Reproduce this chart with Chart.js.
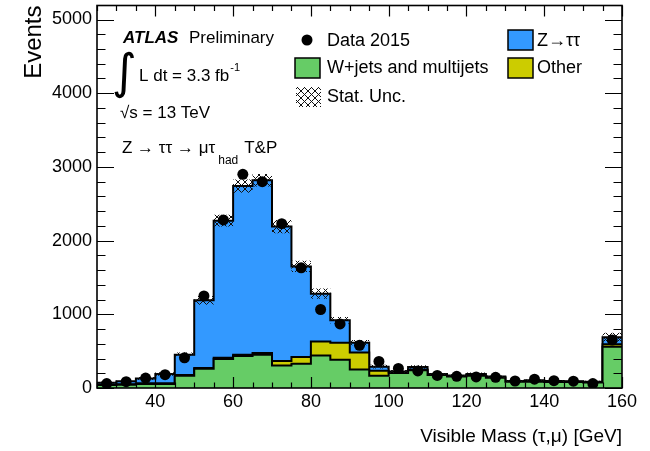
<!DOCTYPE html>
<html>
<head>
<meta charset="utf-8">
<script src="https://cdn.jsdelivr.net/npm/chart.js@4.4.1/dist/chart.umd.min.js"></script>
<style>
  html, body { margin: 0; padding: 0; background: #fff; }
</style>
</head>
<body>
<canvas id="massChart" width="650" height="451"></canvas>
<script>
// Гистограмма видимой массы (tau, mu), бины по 5 ГэВ, последний бин — переполнение
const binLow = [25, 30, 35, 40, 45, 50, 55, 60, 65, 70, 75, 80, 85, 90, 95,
  100, 105, 110, 115, 120, 125, 130, 135, 140, 145, 150, 155];
const binWidth = 5;

const wjets = [40, 45, 55, 55, 165, 260, 395, 435, 450, 305, 330, 440, 385, 250, 165,
  205, 240, 175, 155, 165, 140, 85, 85, 80, 80, 75, 560];
const other = [5, 5, 10, 10, 10, 10, 15, 15, 25, 60, 90, 190, 230, 230, 70,
  5, 10, 5, 5, 5, 5, 5, 5, 5, 5, 5, 35];
const ztautau = [25, 40, 65, 125, 275, 920, 1860, 2290, 2345, 1825, 1230, 650, 305, 135, 55,
  15, 35, 10, 10, 20, 10, 5, 15, 10, 5, 5, 95];
const statUnc = [15, 15, 20, 25, 30, 60, 80, 90, 85, 90, 75, 70, 45, 35, 25,
  20, 25, 15, 15, 20, 15, 12, 12, 12, 12, 12, 60];
const data2015 = [60, 85, 135, 180, 410, 1250, 2280, 2900, 2800, 2230, 1630, 1065, 870, 580, 360,
  265, 232, 170, 158, 150, 145, 95, 120, 100, 92, 60, 650];

const xTickValues = [40, 60, 80, 100, 120, 140, 160];
const yTickValues = [0, 1000, 2000, 3000, 4000, 5000];

const FONT = "'Liberation Sans', Arial, Helvetica, sans-serif";
const COL_Z = '#3399ff';
const COL_W = '#66cc66';
const COL_OTHER = '#cccc00';

// точки для ступенчатой линии: левые края бинов + правый край последнего
function stepPoints(values) {
  const pts = binLow.map((x, i) => ({ x: x, y: values[i] }));
  pts.push({ x: binLow[binLow.length - 1] + binWidth, y: values[values.length - 1] });
  return pts;
}

// накопленные суммы для стека
const stackW = wjets.slice();
const stackOther = wjets.map((v, i) => v + other[i]);
const stackTotal = stackOther.map((v, i) => v + ztautau[i]);
const uncHigh = stackTotal.map((v, i) => v + statUnc[i]);
const uncLow = stackTotal.map((v, i) => v - statUnc[i]);

function makeHatch() {
  const c = document.createElement('canvas');
  c.width = 7; c.height = 7;
  const g = c.getContext('2d');
  g.strokeStyle = '#111';
  g.lineWidth = 1;
  g.beginPath();
  g.moveTo(0, 0); g.lineTo(7, 7);
  g.moveTo(7, 0); g.lineTo(0, 7);
  g.stroke();
  return g.createPattern(c, 'repeat');
}
const hatch = makeHatch();

// рамка, засечки внутрь и подписи
const atlasDecor = {
  id: 'atlasDecor',
  afterDatasetsDraw(chart) {
    const { ctx, chartArea: a, scales: { x, y } } = chart;
    ctx.save();
    ctx.strokeStyle = '#000';
    ctx.lineWidth = 1.2;
    ctx.beginPath();
    for (let v = 25; v <= 160; v += 5) {
      const px = Math.round(x.getPixelForValue(v)) + 0.5;
      const len = v % 20 === 0 ? 11 : 5.5;
      ctx.moveTo(px, a.bottom); ctx.lineTo(px, a.bottom - len);
      ctx.moveTo(px, a.top); ctx.lineTo(px, a.top + len);
    }
    for (let v = 0; v <= y.max; v += 200) {
      const py = Math.round(y.getPixelForValue(v)) + 0.5;
      const len = v % 1000 === 0 ? 17 : 8.5;
      ctx.moveTo(a.left, py); ctx.lineTo(a.left + len, py);
      ctx.moveTo(a.right, py); ctx.lineTo(a.right - len, py);
    }
    ctx.stroke();
    ctx.lineWidth = 1.6;
    ctx.strokeRect(a.left, a.top, a.right - a.left, a.bottom - a.top);

    ctx.fillStyle = '#000';
    ctx.textBaseline = 'alphabetic';
    ctx.textAlign = 'left';

    // ATLAS Preliminary
    ctx.font = 'bold italic 17px ' + FONT;
    ctx.fillText('ATLAS', 123, 43);
    ctx.font = '17px ' + FONT;
    ctx.fillText('Preliminary', 189, 43);

    // светимость
    ctx.font = "48px 'DejaVu Sans'";
    ctx.fillText('\u222B', 112, 88);
    ctx.font = '17px ' + FONT;
    const lumi = 'L dt = 3.3 fb';
    ctx.fillText(lumi, 139, 81);
    const lw = ctx.measureText(lumi).width;
    ctx.font = '11px ' + FONT;
    ctx.fillText('-1', 139 + lw + 1, 71);

    ctx.font = '17px ' + FONT;
    ctx.fillText('\u221As = 13 TeV', 120, 118);

    // канал
    let cx = 122;
    const chan = 'Z \u2192 \u03C4\u03C4 \u2192 \u03BC\u03C4';
    ctx.fillText(chan, cx, 153);
    cx += ctx.measureText(chan).width + 3;
    ctx.font = '12px ' + FONT;
    ctx.fillText('had', cx, 164);
    cx += ctx.measureText('had').width + 6;
    ctx.font = '17px ' + FONT;
    ctx.fillText('T&P', cx, 153);

    // легенда
    ctx.beginPath();
    ctx.arc(307, 40, 5.5, 0, Math.PI * 2);
    ctx.fill();

    ctx.lineWidth = 1.5;
    const boxes = [
      [508, 30, COL_Z],
      [295, 58, COL_W],
      [508, 58, COL_OTHER]
    ];
    boxes.forEach(([bx, by, col]) => {
      ctx.fillStyle = col;
      ctx.fillRect(bx, by, 25, 20);
      ctx.strokeRect(bx, by, 25, 20);
    });
    ctx.fillStyle = hatch;
    ctx.fillRect(296, 87, 25, 20);

    ctx.fillStyle = '#000';
    ctx.font = '18px ' + FONT;
    ctx.fillText('Data 2015', 327, 46);
    ctx.fillText('W+jets and multijets', 327, 73);
    ctx.fillText('Stat. Unc.', 327, 102);
    ctx.fillText('Z\u2192\u03C4\u03C4', 537, 46);
    ctx.fillText('Other', 537, 73);
    ctx.restore();
  }
};

const lineStyle = {
  type: 'line',
  stepped: true,
  pointRadius: 0,
  borderColor: '#000',
  borderWidth: 2
};

new Chart(document.getElementById('massChart'), {
  data: {
    datasets: [
      {
        type: 'scatter',
        label: 'Data 2015',
        data: binLow.map((x, i) => ({ x: x + binWidth / 2, y: data2015[i] })),
        pointRadius: 5.5,
        pointBackgroundColor: '#000',
        pointBorderWidth: 0,
        order: 0
      },
      {
        ...lineStyle,
        label: 'Stat. Unc.',
        data: stepPoints(uncHigh),
        borderWidth: 0,
        backgroundColor: hatch,
        fill: '+1',
        order: 1
      },
      {
        ...lineStyle,
        label: 'unc low',
        data: stepPoints(uncLow),
        borderWidth: 0,
        fill: false,
        order: 1
      },
      {
        ...lineStyle,
        label: 'W+jets and multijets',
        data: stepPoints(stackW),
        backgroundColor: COL_W,
        fill: 'origin',
        order: 2
      },
      {
        ...lineStyle,
        label: 'Other',
        data: stepPoints(stackOther),
        backgroundColor: COL_OTHER,
        fill: 'origin',
        order: 3
      },
      {
        ...lineStyle,
        label: 'Z\u2192\u03C4\u03C4',
        data: stepPoints(stackTotal),
        backgroundColor: COL_Z,
        fill: 'origin',
        order: 4
      }
    ]
  },
  options: {
    responsive: false,
    animation: false,
    devicePixelRatio: 1,
    layout: { padding: { top: 5, right: 28, bottom: 0, left: 0 } },
    plugins: {
      legend: { display: false },
      tooltip: { enabled: false }
    },
    scales: {
      x: {
        type: 'linear',
        min: 25,
        max: 160,
        afterBuildTicks: (scale) => { scale.ticks = xTickValues.map(v => ({ value: v })); },
        afterFit: (scale) => {
          scale.height = 63;
          scale.paddingLeft = 0; scale.paddingRight = 0;
        },
        grid: { display: false, drawTicks: false },
        border: { display: false },
        ticks: {
          color: '#000',
          font: { family: FONT, size: 18 },
          padding: 3,
          maxRotation: 0,
          autoSkip: false,
          callback: (v) => String(v)
        },
        title: {
          display: true,
          text: 'Visible Mass (\u03C4,\u03BC) [GeV]',
          align: 'end',
          color: '#000',
          font: { family: FONT, size: 19 },
          padding: { top: 0, bottom: 3 }
        }
      },
      y: {
        type: 'linear',
        min: 0,
        max: 5190,
        afterBuildTicks: (scale) => { scale.ticks = yTickValues.map(v => ({ value: v })); },
        afterFit: (scale) => {
          scale.width = 97;
          scale.paddingTop = 0; scale.paddingBottom = 0;
        },
        grid: { display: false, drawTicks: false },
        border: { display: false },
        ticks: {
          color: '#000',
          font: { family: FONT, size: 18 },
          padding: 5,
          callback: (v) => String(v)
        },
        title: {
          display: true,
          text: 'Events',
          align: 'end',
          color: '#000',
          font: { family: FONT, size: 24 },
          padding: { top: 20, bottom: 0 }
        }
      }
    }
  },
  plugins: [atlasDecor]
});
</script>
</body>
</html>
